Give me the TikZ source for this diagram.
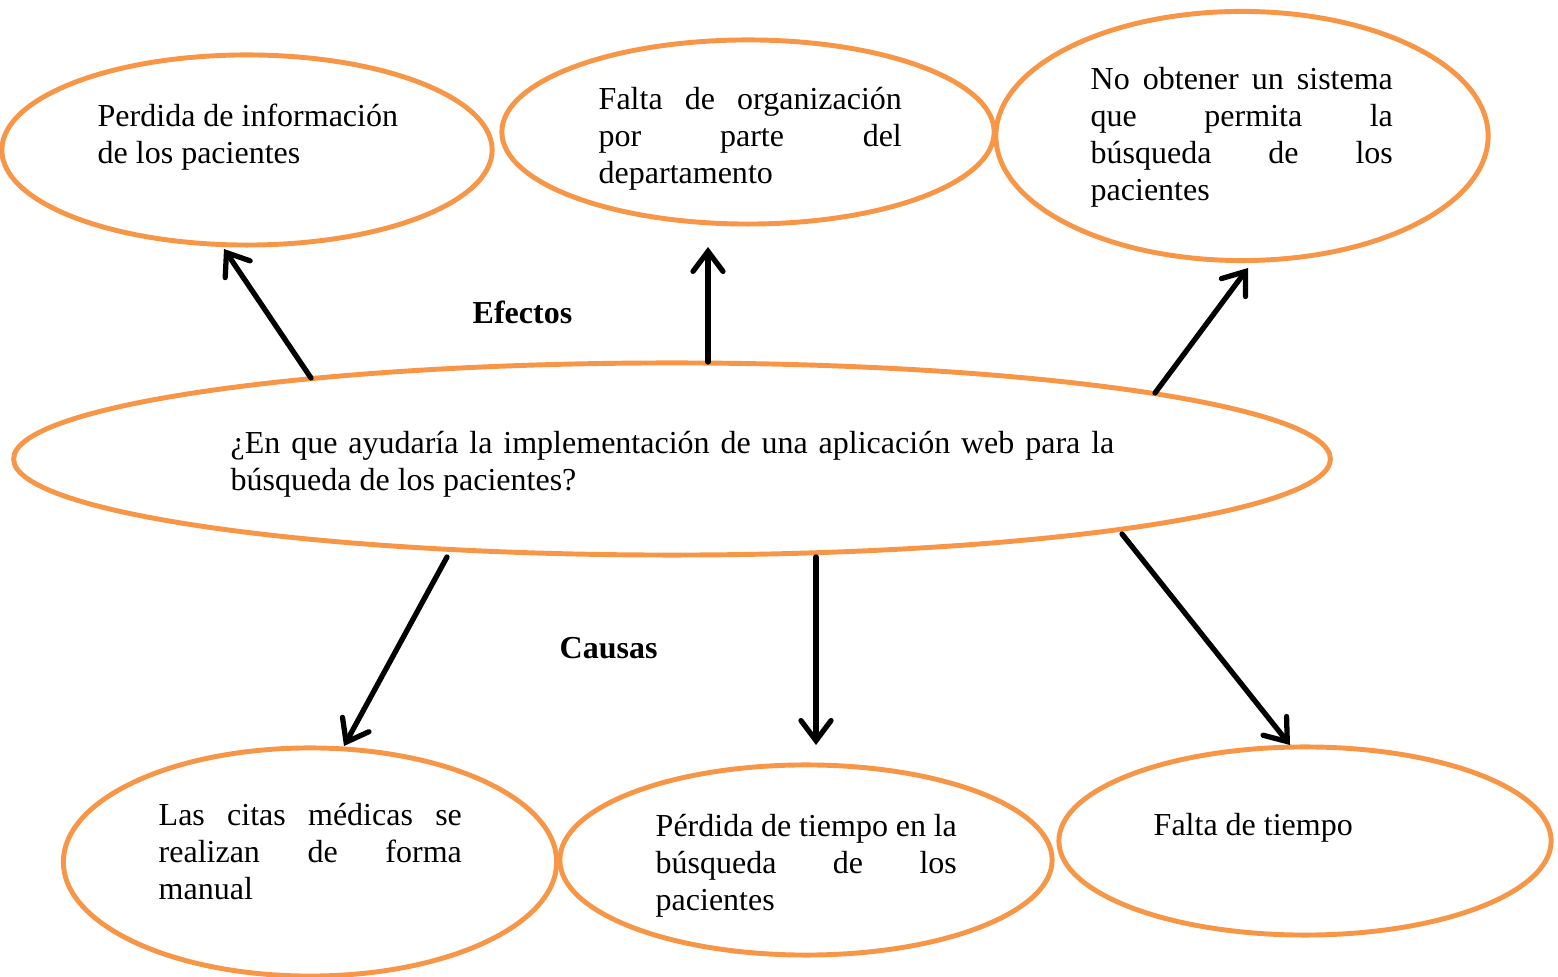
\documentclass[tikz,border=0pt]{standalone}
\usepackage{fontspec}
\setmainfont{Liberation Serif}
\usetikzlibrary{shapes.geometric,arrows.meta,calc}
\definecolor{oval}{HTML}{F79646}
\newcommand{\jl}[1]{\makebox[\linewidth][s]{#1}}
\begin{document}
\begin{tikzpicture}[x=0.01cm,y=-0.01cm,
  bubble/.style={draw=oval,line width=1.4pt,ellipse,inner sep=0pt},
  txt/.style={inner sep=0pt,anchor=base west,font=\fontsize{9.1}{10.5}\selectfont},
  lbl/.style={inner sep=0pt,anchor=base west,font=\fontsize{9.1}{10.5}\selectfont\bfseries},
  arr/.style={draw=black,line width=1.5pt,line cap=round,-{Straight Barb[length=0.2cm,width=0.3cm,line cap=round]}}]
\useasboundingbox (0,0) rectangle (1558,977);
% ellipses
\node[bubble,minimum width=4.90cm,minimum height=1.90cm] (e1) at (247,150) {};
\node[bubble,minimum width=4.92cm,minimum height=1.84cm] (e2) at (748,132) {};
\node[bubble,minimum width=4.92cm,minimum height=2.49cm] (e3) at (1242,136) {};
\node[bubble,minimum width=13.16cm,minimum height=1.92cm] (c) at (672,459) {};
\node[bubble,minimum width=4.93cm,minimum height=2.28cm] (e5) at (310,862) {};
\node[bubble,minimum width=4.92cm,minimum height=1.90cm] (e6) at (806,860) {};
\node[bubble,minimum width=4.92cm,minimum height=1.88cm] (e7) at (1305,841) {};
% texts
\node[txt] (t1) at (97,127) {\parbox[t]{3.05cm}{Perdida de información\\de los pacientes}};
\node[txt] (t2) at (598,110) {\parbox[t]{3.03cm}{\jl{Falta de organización}\\\jl{por parte del}\\departamento}};
\node[txt] (t3) at (1090,90) {\parbox[t]{3.02cm}{\jl{No obtener un sistema}\\\jl{que permita la}\\\jl{búsqueda de los}\\pacientes}};
\node[txt] (tc) at (230,454) {\parbox[t]{8.83cm}{\jl{¿En que ayudaría la implementación de una aplicación web para la}\\búsqueda de los pacientes?}};
\node[txt] (t5) at (158,826) {\parbox[t]{3.03cm}{\jl{Las citas médicas se}\\\jl{realizan de forma}\\manual}};
\node[txt] (t6) at (655,837) {\parbox[t]{3.01cm}{\jl{Pérdida de tiempo en la}\\\jl{búsqueda de los}\\pacientes}};
\node[txt] (t7) at (1153,836) {Falta de tiempo};
\node[lbl] (ef) at (472,324) {Efectos};
\node[lbl] (ca) at (559,659) {Causas};
% arrows
\draw[arr] ($(c.center)+(-361,-81)$) -- ($(e1.center)+(-23,99)$);
\draw[arr] ($(c.center)+(36,-97)$) -- ($(e2.center)+(-40,115)$);
\draw[arr] ($(c.center)+(483,-66)$) -- ($(e3.center)+(6,132)$);
\draw[arr] ($(c.center)+(-225,98)$) -- ($(e5.center)+(34,-116)$);
\draw[arr] ($(c.center)+(144,98)$) -- ($(e6.center)+(10,-115)$);
\draw[arr] ($(c.center)+(450,75)$) -- ($(e7.center)+(-15,-96)$);
\end{tikzpicture}
\end{document}
